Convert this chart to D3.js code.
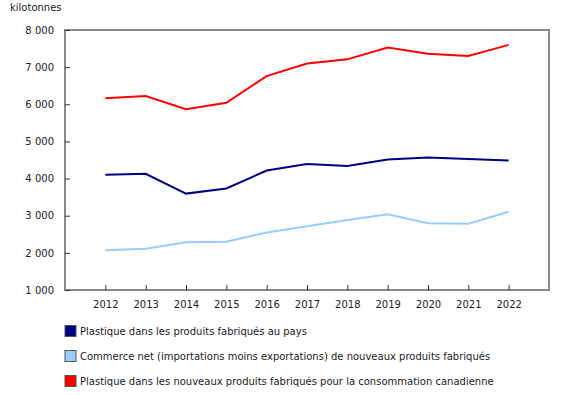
<!DOCTYPE html>
<html>
<head>
<meta charset="utf-8">
<script src="https://cdn.jsdelivr.net/npm/d3@7"></script>
<style>
  body { margin: 0; background: #fff; }
  text { font-family: Verdana, "DejaVu Sans", sans-serif; font-size: 10px; fill: #222; }
</style>
</head>
<body>
<div id="chart"></div>
<script>
// data
var years = ["2012", "2013", "2014", "2015", "2016", "2017", "2018", "2019", "2020", "2021", "2022"];
var domestic = [4100, 4130, 3595, 3735, 4215, 4390, 4340, 4515, 4570, 4530, 4485];
var netTrade = [2070, 2110, 2285, 2300, 2550, 2715, 2885, 3040, 2795, 2785, 3105];
var consumption = [6165, 6220, 5865, 6040, 6760, 7100, 7210, 7530, 7360, 7300, 7600];
var yTicks = [1000, 2000, 3000, 4000, 5000, 6000, 7000, 8000];
var seriesNames = [
  "Plastique dans les produits fabriqués au pays",
  "Commerce net (importations moins exportations) de nouveaux produits fabriqués",
  "Plastique dans les nouveaux produits fabriqués pour la consommation canadienne"
];
var seriesColors = ["#000080", "#99ccff", "#ff0000"];

var width = 580, height = 395;
var plotLeft = 65, plotRight = 549, plotTop = 30, plotBottom = 290;

var svg = d3.select('#chart')
  .append('svg')
  .attr('width', width)
  .attr('height', height);

var x = d3.scalePoint().domain(years).range([plotLeft, plotRight]).padding(1);
var y = d3.scaleLinear().domain([1000, 8000]).range([plotBottom, plotTop]);

var fmt = function (d) { return d3.format(',')(d).replace(/,/g, ' '); };

// frame
svg.append('rect')
  .attr('x', plotLeft).attr('y', plotTop)
  .attr('width', plotRight - plotLeft).attr('height', plotBottom - plotTop)
  .attr('fill', 'none')
  .attr('stroke', '#888')
  .attr('stroke-width', 2);

// y axis ticks + labels
var yAxis = svg.append('g').attr('transform', 'translate(' + plotLeft + ',0)')
  .call(d3.axisLeft(y).tickValues(yTicks).tickFormat(fmt).tickSize(-5).tickPadding(11));
yAxis.select('.domain').remove();
yAxis.selectAll('line').attr('stroke', '#333');
yAxis.selectAll('text').attr('fill', '#222').style('font-size', '10px')
  .style('font-family', 'Verdana, "DejaVu Sans", sans-serif');

// x axis ticks + labels
var xAxis = svg.append('g').attr('transform', 'translate(0,' + plotBottom + ')')
  .call(d3.axisBottom(x).tickSize(-5).tickPadding(11));
xAxis.select('.domain').remove();
xAxis.selectAll('line').attr('stroke', '#333');
xAxis.selectAll('text').attr('fill', '#222').style('font-size', '10px')
  .style('font-family', 'Verdana, "DejaVu Sans", sans-serif');

svg.append('text')
  .attr('x', 10).attr('y', 11)
  .text('kilotonnes');

// lines
var line = d3.line()
  .x(function (d, i) { return x(years[i]); })
  .y(function (d) { return y(d); });

[domestic, netTrade, consumption].forEach(function (s, i) {
  svg.append('path')
    .datum(s)
    .attr('d', line)
    .attr('fill', 'none')
    .attr('stroke', seriesColors[i])
    .attr('stroke-width', 2);
});

// legend
var legendY = [331, 356, 381];
for (var i = 0; i < seriesNames.length; i++) {
  svg.append('rect')
    .attr('x', 65).attr('y', legendY[i] - 5.5)
    .attr('width', 11).attr('height', 11)
    .attr('fill', seriesColors[i])
    .attr('stroke', '#555')
    .attr('stroke-width', 1);
  svg.append('text')
    .attr('x', 80).attr('y', legendY[i])
    .attr('dy', '0.35em')
    .text(seriesNames[i]);
}
</script>
</body>
</html>
